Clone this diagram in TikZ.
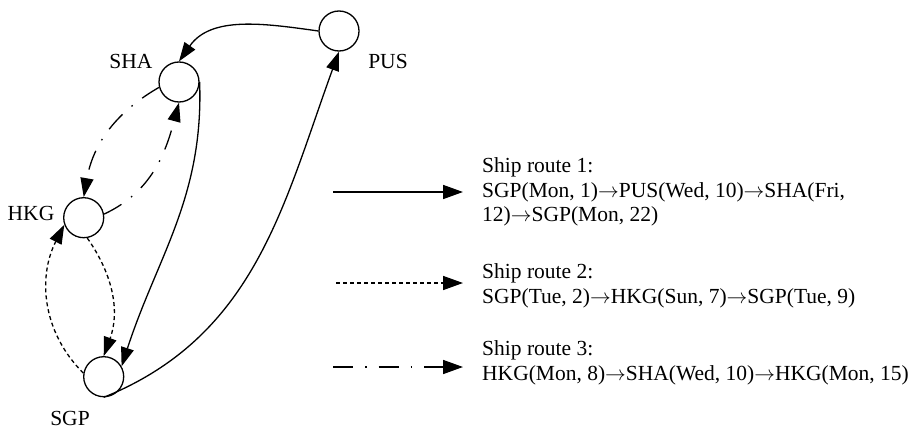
\documentclass[tikz,border=0pt]{standalone}
\usepackage{fontspec}
\setmainfont{Liberation Serif}
\usetikzlibrary{arrows.meta}
\newcommand\myarr{\ensuremath{\rightarrow}}
\tikzset{
  port/.style={circle, draw, line width=1.3pt, minimum size=40pt, inner sep=0pt},
  lbl/.style={font=\fontsize{21.5}{24.5}\selectfont, inner sep=0pt, anchor=base},
  legtext/.style={font=\fontsize{21.5}{24.5}\selectfont, inner sep=0pt, anchor=north west, align=left},
  edge/.style={line width=1.3pt, -{Triangle[length=19pt,width=13pt]}},
  legline/.style={line width=1.6pt, -{Triangle[length=20pt,width=14pt]}},
  rtwo/.style={dash pattern=on 4pt off 3pt},
  rthree/.style={dash pattern=on 20pt off 12pt on 1.5pt off 12pt},
}
\begin{document}
\begin{tikzpicture}[x=1pt,y=-1pt]
\useasboundingbox (0,0) rectangle (918,428);
% ports
\node[port] (PUS) at (339,31) {};
\node[port] (SHA) at (179,82) {};
\node[port] (HKG) at (83.7,217.7) {};
\node[port] (SGP) at (103.7,376.7) {};
% labels
\node[lbl] (PUSl) at (388,68) {PUS};
\node[lbl] (SHAl) at (131,68) {SHA};
\node[lbl] (HKGl) at (31,220) {HKG};
\node[lbl] (SGPl) at (70,425) {SGP};
% route 1 (solid)
\draw[edge] (PUS.180) to[out=172,in=55] (SHA.north);
\draw[edge] (SHA.east) to[out=-88,in=72] (SGP.30);
\draw[edge] (SGP.south) to[out=22,in=-110] (PUS.south);
% route 2 (dashed)
\draw[edge,rtwo] (HKG.-80) to[out=-55,in=70] (SGP.north);
\draw[edge,rtwo] (SGP.170) to[out=135,in=-117] (HKG.200);
% route 3 (dash-dot)
\draw[edge,rthree] (SHA.195) to[out=210,in=80] (HKG.north);
\draw[edge,rthree] (HKG.10) to[out=25,in=-105] (SHA.south);
% legend
\coordinate (a1) at (333,192); \coordinate (b1) at (463,192);
\coordinate (a2) at (336,283); \coordinate (b2) at (463,283);
\coordinate (a3) at (333,367); \coordinate (b3) at (463,367);
\draw[legline] (a1) -- (b1);
\draw[legline,rtwo] (a2) -- (b2);
\draw[legline,rthree] (a3) -- (b3);
\node[legtext] (t1) at (482,157.5) {Ship route 1:\\SGP(Mon, 1)\myarr PUS(Wed, 10)\myarr SHA(Fri,\\12)\myarr SGP(Mon, 22)};
\node[legtext] (t2) at (482,263.5) {Ship route 2:\\SGP(Tue, 2)\myarr HKG(Sun, 7)\myarr SGP(Tue, 9)};
\node[legtext] (t3) at (482,340.5) {Ship route 3:\\HKG(Mon, 8)\myarr SHA(Wed, 10)\myarr HKG(Mon, 15)};
\end{tikzpicture}
\end{document}
